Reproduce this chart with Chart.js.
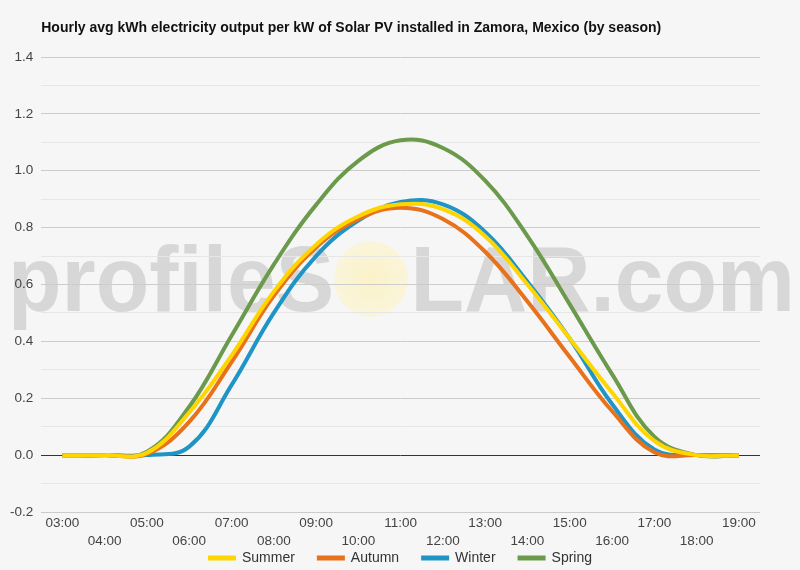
<!DOCTYPE html>
<html>
<head>
<meta charset="utf-8">
<script src="https://cdn.jsdelivr.net/npm/chart.js@4/dist/chart.umd.min.js"></script>
<style>
  html, body { margin: 0; padding: 0; background: #f6f6f6; }
  #wrap { width: 800px; height: 570px; }
</style>
</head>
<body>
<div id="wrap"><canvas id="myChart"></canvas></div>
<script>
const hours = ['03:00', '04:00', '05:00', '06:00', '07:00', '08:00', '09:00', '10:00', '11:00',
  '12:00', '13:00', '14:00', '15:00', '16:00', '17:00', '18:00', '19:00'];

const summer = [0, 0, 0.008, 0.15, 0.35, 0.575, 0.74, 0.84, 0.882, 0.865, 0.77, 0.6, 0.41, 0.22, 0.05, 0, 0];
const autumn = [0, 0, 0.004, 0.117, 0.327, 0.56, 0.73, 0.83, 0.87, 0.83, 0.715, 0.54, 0.345, 0.155, 0.01, 0, 0];
const winter = [0, 0, 0, 0.03, 0.246, 0.5, 0.7, 0.825, 0.89, 0.882, 0.785, 0.61, 0.41, 0.18, 0.02, 0, 0];
const spring = [0, 0, 0.012, 0.17, 0.42, 0.67, 0.88, 1.035, 1.107, 1.08, 0.965, 0.77, 0.53, 0.285, 0.065, 0, 0];

const colors = {
  summer: '#ffd500',
  autumn: '#e8711c',
  winter: '#1f95c6',
  spring: '#6c9a4c',
};

const titleText = 'Hourly avg kWh electricity output per kW of Solar PV installed in Zamora, Mexico (by season)';
const watermark = ['profileS', 'LAR.com'];
const fontFamily = '"Liberation Sans", Arial, sans-serif';

// background watermark: grey text with a pale sun in place of the "O"
const watermarkPlugin = {
  id: 'watermark',
  beforeDraw(chart) {
    const ctx = chart.ctx;
    ctx.save();
    ctx.font = 'bold 92px ' + fontFamily;
    ctx.textBaseline = 'alphabetic';
    ctx.fillStyle = 'rgba(190,190,190,0.55)';
    const w1 = ctx.measureText(watermark[0]).width;
    const w2 = ctx.measureText(watermark[1]).width;
    const gap = 80;
    const sx = 787 / (w1 + gap + w2);
    ctx.translate(8, 311);
    ctx.scale(sx, 1);
    ctx.fillText(watermark[0], 0, 0);
    ctx.fillText(watermark[1], w1 + gap, 0);
    ctx.restore();

    ctx.save();
    const cx = 371, cy = 279;
    const g = ctx.createRadialGradient(cx, cy, 2, cx, cy, 38);
    g.addColorStop(0, 'rgba(253,240,185,0.75)');
    g.addColorStop(1, 'rgba(252,244,200,0.6)');
    ctx.fillStyle = g;
    ctx.beginPath();
    ctx.ellipse(cx, cy, 37, 38, 0, 0, Math.PI * 2);
    ctx.fill();
    ctx.restore();
  }
};

// title at the plot's left edge, legend centred under the axis
const framePlugin = {
  id: 'frame',
  afterDraw(chart) {
    const ctx = chart.ctx;
    ctx.save();
    ctx.fillStyle = '#111';
    ctx.font = 'bold 14px ' + fontFamily;
    ctx.textBaseline = 'middle';
    ctx.textAlign = 'left';
    ctx.fillText(titleText, chart.chartArea.left, 28);

    ctx.font = '14px ' + fontFamily;
    const box = 28, textGap = 6, itemGap = 22, y = 558;
    const items = chart.data.datasets.map(d => ({
      label: d.label, color: d.borderColor, w: box + textGap + ctx.measureText(d.label).width
    }));
    const total = items.reduce((s, it) => s + it.w, 0) + itemGap * (items.length - 1);
    let x = 400 - total / 2;
    items.forEach(it => {
      ctx.fillStyle = it.color;
      ctx.fillRect(x, y - 2.5, box, 5);
      ctx.fillStyle = '#333';
      ctx.fillText(it.label, x + box + textGap, y);
      x += it.w + itemGap;
    });
    ctx.restore();
  }
};

const ds = (label, data, color) => ({
  label,
  data,
  borderColor: color,
  backgroundColor: color,
  borderWidth: 4,
  pointRadius: 0,
  tension: 0.4,
  fill: false,
});

new Chart(document.getElementById('myChart').getContext('2d'), {
  type: 'line',
  data: {
    labels: hours,
    datasets: [
      ds('Summer', summer, colors.summer),
      ds('Autumn', autumn, colors.autumn),
      ds('Winter', winter, colors.winter),
      ds('Spring', spring, colors.spring),
    ]
  },
  plugins: [watermarkPlugin, framePlugin],
  options: {
    animation: false,
    responsive: true,
    maintainAspectRatio: false,
    layout: { padding: { left: 2, right: 40, top: 57, bottom: 18 } },
    plugins: {
      title: { display: false },
      tooltip: { enabled: false },
      legend: { display: false },
    },
    scales: {
      x: {
        offset: true,
        grid: { display: false, drawTicks: false },
        border: { display: false },
        ticks: {
          autoSkip: false,
          maxRotation: 0,
          color: '#444',
          padding: 2,
          font: { family: fontFamily, size: 13.5, lineHeight: 18 / 13.5 },
          callback(value, index) {
            const l = this.getLabelForValue(value);
            return index % 2 === 0 ? l : ['', l];
          }
        }
      },
      y: {
        min: -0.2,
        max: 1.4,
        border: { display: false },
        grid: {
          drawTicks: false,
          color(c) {
            const k = Math.round(c.tick.value * 10);
            if (k === 0) return '#333';
            return k % 2 === 0 ? '#cccccc' : '#e6e6e6';
          }
        },
        ticks: {
          stepSize: 0.1,
          color: '#444',
          padding: 8,
          font: { family: fontFamily, size: 13.5 },
          callback(v) {
            const k = Math.round(v * 10);
            return k % 2 === 0 ? (k / 10).toFixed(1) : '';
          }
        }
      }
    }
  }
});
</script>
</body>
</html>
